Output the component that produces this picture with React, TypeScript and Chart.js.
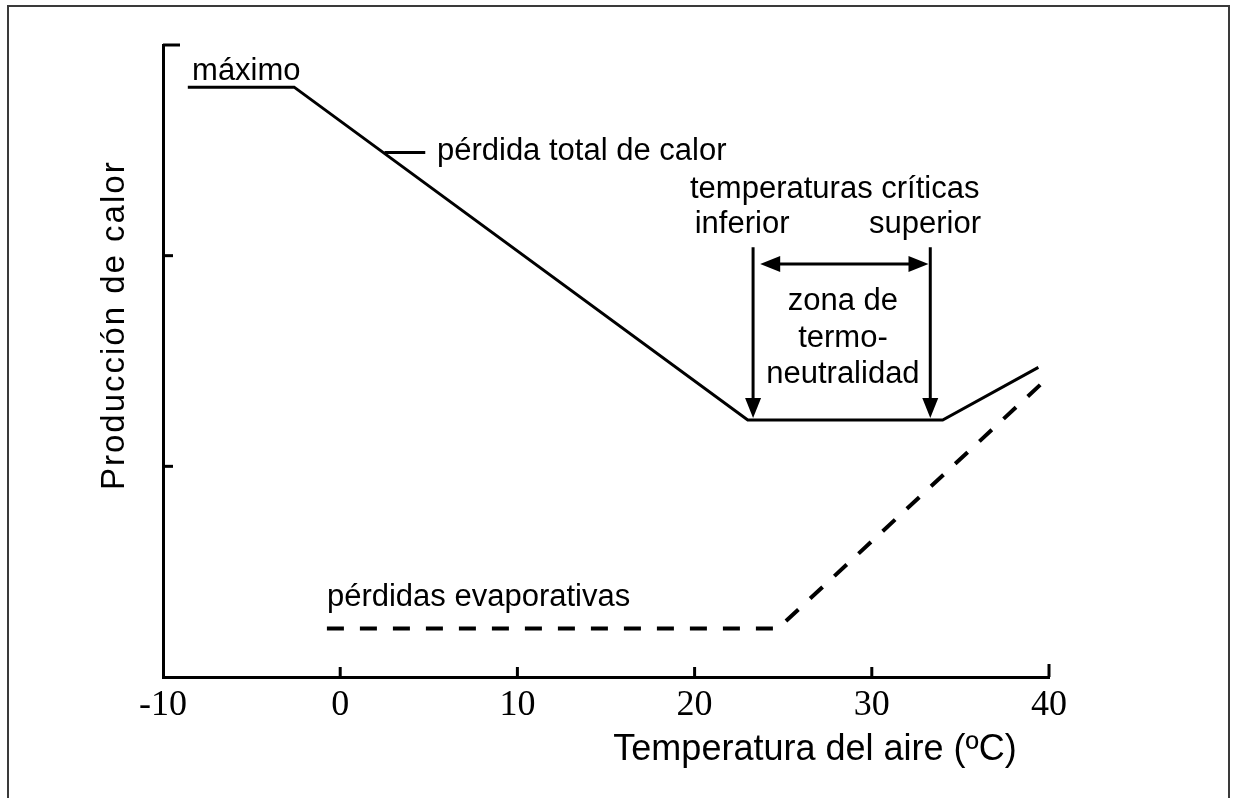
import React, { useEffect, useRef } from "react";
import { Chart, registerables } from "chart.js";

Chart.register(...registerables);

// Axis ranges / tick values
const xTickValues = [-10, 0, 10, 20, 30, 40];
const yTickMarks = [1, 2, 3];

// Heat production / total heat loss curve (solid)
const totalLossX = [-8.6, -2.6, 23.0, 34.0, 39.4];
const totalLossY = [2.8, 2.8, 1.22, 1.22, 1.47];

// Evaporative losses (dashed)
const evapX = [-0.75, 24.7, 39.8];
const evapY = [0.23, 0.23, 1.41];

// Critical temperatures (lower, upper) and arrow extents
const criticalTemps = [23.3, 33.3];
const criticalArrowY = [2.04, 1.23]; // from, to (tip)
const zoneArrowX = [23.7, 33.2];
const zoneArrowY = 1.96;

// Leader line for "pérdida total de calor"
const leaderX = [2.5, 4.8];
const leaderY = 2.49;

const annotationTexts = [
  "máximo",
  "pérdida total de calor",
  "temperaturas críticas",
  "inferior",
  "superior",
  "zona de",
  "termo-",
  "neutralidad",
  "pérdidas evaporativas",
];
const annotationX = [-8.36, 5.46, 19.74, 22.68, 33.0, 28.37, 28.37, 28.37, -0.75];
const annotationY = [2.834, 2.454, 2.274, 2.108, 2.108, 1.742, 1.566, 1.396, 0.337];
const annotationAlign = ["left", "left", "left", "center", "center", "center", "center", "center", "left"];

const xTitle = "Temperatura del aire (ºC)";
const yTitle = "Producción de calor";

const SANS = '"Liberation Sans", Arial, sans-serif';
const SERIF = '"Liberation Serif", "Times New Roman", serif';

function arrowHead(ctx: CanvasRenderingContext2D, tx: number, ty: number, dx: number, dy: number, len: number, half: number) {
  const bx = tx - dx * len;
  const by = ty - dy * len;
  const px = -dy;
  const py = dx;
  ctx.beginPath();
  ctx.moveTo(tx, ty);
  ctx.lineTo(bx + px * half, by + py * half);
  ctx.lineTo(bx - px * half, by - py * half);
  ctx.closePath();
  ctx.fill();
}

const annotatePlugin = {
  id: "annotatePlugin",
  beforeDraw(chart: any) {
    const ctx = chart.ctx as CanvasRenderingContext2D;
    ctx.save();
    ctx.fillStyle = "#ffffff";
    ctx.fillRect(0, 0, chart.width, chart.height);
    ctx.strokeStyle = "#3a3a3a";
    ctx.lineWidth = 2;
    ctx.strokeRect(8, 6, 1221, 900);
    ctx.restore();
  },
  afterDatasetsDraw(chart: any) {
    const ctx = chart.ctx as CanvasRenderingContext2D;
    const xs = chart.scales.x;
    const ys = chart.scales.y;
    const area = chart.chartArea;
    ctx.save();
    ctx.strokeStyle = "#000";
    ctx.fillStyle = "#000";
    ctx.lineCap = "butt";

    // inward tick marks on x axis
    ctx.lineWidth = 3;
    xTickValues.forEach((v) => {
      if (v === xTickValues[0]) return;
      const px = xs.getPixelForValue(v);
      const len = v === xTickValues[xTickValues.length - 1] ? 13 : 10;
      ctx.beginPath();
      ctx.moveTo(px, area.bottom);
      ctx.lineTo(px, area.bottom - len);
      ctx.stroke();
    });
    // inward tick marks on y axis
    yTickMarks.forEach((v) => {
      const py = ys.getPixelForValue(v);
      const len = v === yTickMarks[yTickMarks.length - 1] ? 17 : 10;
      ctx.beginPath();
      ctx.moveTo(area.left, py);
      ctx.lineTo(area.left + len, py);
      ctx.stroke();
    });

    // leader line
    ctx.lineWidth = 3;
    ctx.beginPath();
    ctx.moveTo(xs.getPixelForValue(leaderX[0]), ys.getPixelForValue(leaderY));
    ctx.lineTo(xs.getPixelForValue(leaderX[1]), ys.getPixelForValue(leaderY));
    ctx.stroke();

    // vertical critical temperature arrows
    criticalTemps.forEach((t) => {
      const px = xs.getPixelForValue(t);
      const y0 = ys.getPixelForValue(criticalArrowY[0]);
      const y1 = ys.getPixelForValue(criticalArrowY[1]);
      ctx.beginPath();
      ctx.moveTo(px, y0);
      ctx.lineTo(px, y1 - 15);
      ctx.stroke();
      arrowHead(ctx, px, y1, 0, 1, 20, 8);
    });

    // horizontal double arrow
    const hx0 = xs.getPixelForValue(zoneArrowX[0]);
    const hx1 = xs.getPixelForValue(zoneArrowX[1]);
    const hy = ys.getPixelForValue(zoneArrowY);
    ctx.beginPath();
    ctx.moveTo(hx0 + 15, hy);
    ctx.lineTo(hx1 - 15, hy);
    ctx.stroke();
    arrowHead(ctx, hx0, hy, -1, 0, 20, 8);
    arrowHead(ctx, hx1, hy, 1, 0, 20, 8);

    // annotation texts
    ctx.font = `31px ${SANS}`;
    ctx.textBaseline = "alphabetic";
    annotationTexts.forEach((t, i) => {
      ctx.textAlign = annotationAlign[i] as CanvasTextAlign;
      ctx.fillText(t, xs.getPixelForValue(annotationX[i]), ys.getPixelForValue(annotationY[i]));
    });

    // x axis title
    ctx.font = `36px ${SANS}`;
    ctx.textAlign = "center";
    ctx.fillText(xTitle, area.right - 234, area.bottom + 83);

    // y axis title
    ctx.save();
    ctx.translate(area.left - 48, ys.getPixelForValue(1.67));
    ctx.rotate(-Math.PI / 2);
    ctx.font = `33px ${SANS}`;
    (ctx as any).letterSpacing = "2px";
    ctx.textAlign = "center";
    ctx.textBaseline = "middle";
    ctx.fillText(yTitle, 0, 0);
    ctx.restore();

    ctx.restore();
  },
};

export default function App() {
  const canvasRef = useRef<HTMLCanvasElement | null>(null);

  useEffect(() => {
    const canvas = canvasRef.current;
    if (!canvas) return;
    const chart = new Chart(canvas, {
      type: "line",
      data: {
        datasets: [
          {
            label: "pérdida total de calor",
            data: totalLossX.map((x, i) => ({ x, y: totalLossY[i] })),
            borderColor: "#000",
            borderWidth: 3,
            pointRadius: 0,
            tension: 0,
            fill: false,
          },
          {
            label: "pérdidas evaporativas",
            data: evapX.map((x, i) => ({ x, y: evapY[i] })),
            borderColor: "#000",
            borderWidth: 4,
            borderDash: [17, 16],
            pointRadius: 0,
            tension: 0,
            fill: false,
          },
        ],
      },
      options: {
        animation: false,
        responsive: false,
        maintainAspectRatio: false,
        layout: { padding: { left: 163, right: 185, top: 45, bottom: 0 } },
        plugins: {
          legend: { display: false },
          tooltip: { enabled: false },
          title: { display: false },
        },
        scales: {
          x: {
            type: "linear",
            min: xTickValues[0],
            max: xTickValues[xTickValues.length - 1],
            afterFit: (scale: any) => {
              scale.height = 121;
            },
            afterBuildTicks: (scale: any) => {
              scale.ticks = xTickValues.map((v) => ({ value: v }));
            },
            grid: { display: false, drawTicks: false },
            border: { display: true, color: "#000", width: 3 },
            ticks: {
              color: "#000",
              font: { family: SERIF, size: 36 },
              padding: 7,
              maxRotation: 0,
              autoSkip: false,
            },
          },
          y: {
            type: "linear",
            min: 0,
            max: yTickMarks[yTickMarks.length - 1],
            afterFit: (scale: any) => {
              scale.width = 0;
            },
            grid: { display: false, drawTicks: false },
            border: { display: true, color: "#000", width: 3 },
            ticks: { display: false },
          },
        },
      },
      plugins: [annotatePlugin],
    } as any);
    return () => chart.destroy();
  }, []);

  return (
    <div style={{ position: "absolute", left: 0, top: 0, width: 1234, height: 798, background: "#fff" }}>
      <canvas ref={canvasRef} width={1234} height={798} style={{ display: "block", width: 1234, height: 798 }} />
    </div>
  );
}
